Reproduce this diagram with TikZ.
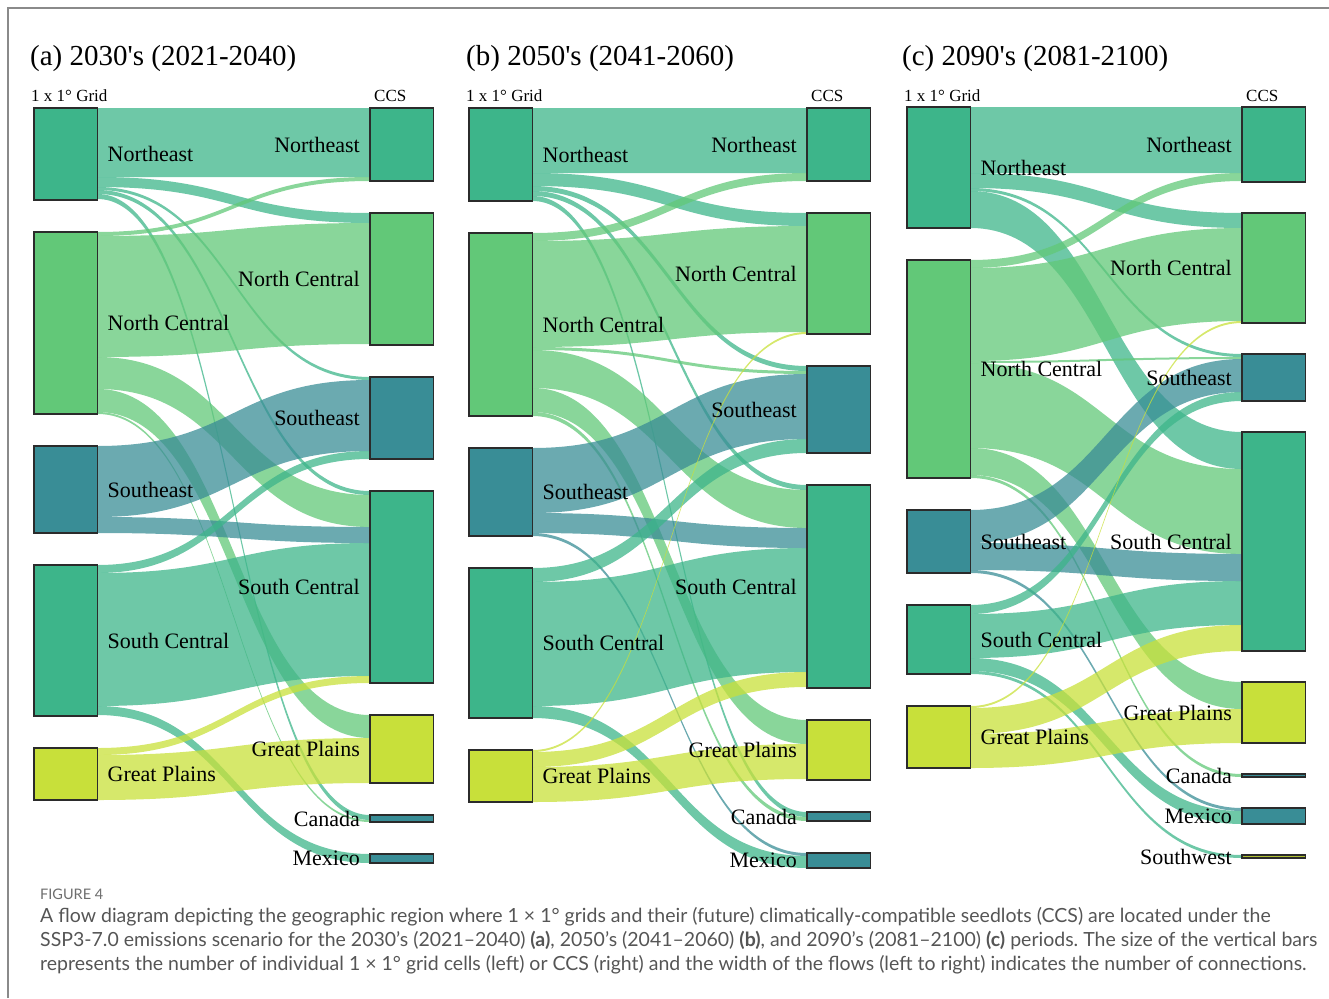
\documentclass[tikz,border=0pt]{standalone}
\usepackage{fontspec}
\setmainfont{Liberation Serif}[Ligatures=TeXOff]
\newfontfamily\capfont{Lato}
\usetikzlibrary{positioning}
\usetikzlibrary{calc}
\pgfdeclarelayer{background}
\pgfsetlayers{background,main}
\frenchspacing

\definecolor{cNE}{HTML}{3DB58A}
\definecolor{cNC}{HTML}{62C878}
\definecolor{cSE}{HTML}{398D96}
\definecolor{cGP}{HTML}{C8E03A}
\definecolor{cSW}{HTML}{AFC032}
\colorlet{cSC}{cNE}
\definecolor{edge}{HTML}{2B2B2B}
\definecolor{capgray}{HTML}{555555}
\definecolor{framegray}{HTML}{8A8A8A}

% one flow band: source bar, offset, target bar, offset, width, colour
\newcommand{\flow}[6]{%
  \path (#1.north east) ++(0,#2) coordinate (f1) ++(0,#5) coordinate (f2)
        (#3.north west) ++(0,#4) coordinate (f3) ++(0,#5) coordinate (f4)
        ($(f1)!0.5!(f3)$) coordinate (fm);
  \begin{pgfonlayer}{background}
    \fill[band = #6] (f1) .. controls (f1 -| fm) and (f3 -| fm) .. (f3)
      -- (f4) .. controls (f4 -| fm) and (f2 -| fm) .. (f2) -- cycle;
  \end{pgfonlayer}
}

\tikzset {
  bar/.style = {
    draw = edge,
    fill = #1,
    line width = 1.1pt,
    rectangle,
    minimum width = 63.5pt,
    inner sep = 0,
    outer sep = 0
  },
  band/.style = {
    fill = #1,
    fill opacity = 0.75
  },
  % region names beside the bars
  lname/.style = {
    font = \fontsize{22}{26}\selectfont,
    inner sep = 0
  },
  rname/.style = {
    lname
  },
  title/.style = {
    font = \fontsize{29}{34}\selectfont,
    anchor = base west,
    inner sep = 0
  },
  head/.style = {
    font = \fontsize{17}{20}\selectfont,
    anchor = base west,
    inner sep = 0
  },
  capline/.style = {
    font = \capfont\fontsize{19.5}{24}\selectfont,
    text = capgray,
    anchor = base west,
    inner sep = 0
  },
  node distance = 32pt
}

\begin{document}
\begin{tikzpicture}[x = 1pt, y = -1pt]
  \useasboundingbox (0,0) rectangle (1329,998);
  \draw[framegray, line width = 1.4pt] (8,998) -- (8,8) -- (1329,8);

  % (a) 2030's
  \node[title] (aTitle) at (30,66) {(a) 2030's (2021-2040)};
  \node[bar = cNE, minimum height = 92pt, anchor = north west] (aLne) at (34,108) {};
  \node[bar = cNC, minimum height = 182pt] (aLnc) [below = of aLne] {};
  \node[bar = cSE, minimum height = 87pt] (aLse) [below = of aLnc] {};
  \node[bar = cSC, minimum height = 151pt] (aLsc) [below = of aLse] {};
  \node[bar = cGP, minimum height = 52pt] (aLgp) [below = of aLsc] {};
  \node[bar = cNE, minimum height = 73pt, anchor = north west] (aRne) at (370,108) {};
  \node[bar = cNC, minimum height = 132pt] (aRnc) [below = of aRne] {};
  \node[bar = cSE, minimum height = 82pt] (aRse) [below = of aRnc] {};
  \node[bar = cSC, minimum height = 192pt] (aRsc) [below = of aRse] {};
  \node[bar = cGP, minimum height = 68pt] (aRgp) [below = of aRsc] {};
  \node[bar = cSE, minimum height = 7pt] (aRca) [below = of aRgp] {};
  \node[bar = cSE, minimum height = 9pt] (aRmx) [below = of aRca] {};
  \node[head] (aGrid) at ([shift = {(-3,-7)}]aLne.north west) {1 x 1° Grid};
  \node[head] (aCCS) at ([shift = {(4,-7)}]aRne.north west) {CCS};

  \flow{aLne}{0}{aRne}{0}{69}{cNE}
  \flow{aLne}{69}{aRnc}{0}{10}{cNE}
  \flow{aLne}{79}{aRse}{0}{3}{cNE}
  \flow{aLne}{82}{aRsc}{0}{4}{cNE}
  \flow{aLne}{86}{aRca}{0}{5}{cNE}
  \flow{aLnc}{0}{aRne}{69}{4}{cNC}
  \flow{aLnc}{4}{aRnc}{10}{121}{cNC}
  \flow{aLnc}{125}{aRsc}{4}{32}{cNC}
  \flow{aLnc}{157}{aRgp}{0}{23}{cNC}
  \flow{aLnc}{180}{aRca}{5}{2}{cNC}
  \flow{aLse}{0}{aRse}{3}{71}{cSE}
  \flow{aLse}{71}{aRsc}{36}{16}{cSE}
  \flow{aLsc}{0}{aRse}{74}{8}{cSC}
  \flow{aLsc}{8}{aRsc}{52}{133}{cSC}
  \flow{aLsc}{141}{aRmx}{0}{9}{cSC}
  \flow{aLgp}{0}{aRsc}{185}{7}{cGP}
  \flow{aLgp}{7}{aRgp}{23}{45}{cGP}

  \node[lname] (aLneT) [right = 10pt of aLne] {Northeast};
  \node[lname] (aLncT) [right = 10pt of aLnc] {North Central};
  \node[lname] (aLseT) [right = 10pt of aLse] {Southeast};
  \node[lname] (aLscT) [right = 10pt of aLsc] {South Central};
  \node[lname] (aLgpT) [right = 10pt of aLgp] {Great Plains};
  \node[rname] (aRneT) [left = 10pt of aRne] {Northeast};
  \node[rname] (aRncT) [left = 10pt of aRnc] {North Central};
  \node[rname] (aRseT) [left = 10pt of aRse] {Southeast};
  \node[rname] (aRscT) [left = 10pt of aRsc] {South Central};
  \node[rname] (aRgpT) [left = 10pt of aRgp] {Great Plains};
  \node[rname] (aRcaT) [left = 10pt of aRca] {Canada};
  \node[rname] (aRmxT) [left = 10pt of aRmx] {Mexico};

  % (b) 2050's
  \node[title] (bTitle) at (466,66) {(b) 2050's (2041-2060)};
  \node[bar = cNE, minimum height = 93pt, anchor = north west] (bLne) at (469,108) {};
  \node[bar = cNC, minimum height = 183pt] (bLnc) [below = of bLne] {};
  \node[bar = cSE, minimum height = 88pt] (bLse) [below = of bLnc] {};
  \node[bar = cSC, minimum height = 150pt] (bLsc) [below = of bLse] {};
  \node[bar = cGP, minimum height = 52pt] (bLgp) [below = of bLsc] {};
  \node[bar = cNE, minimum height = 73pt, anchor = north west] (bRne) at (807,108) {};
  \node[bar = cNC, minimum height = 121pt] (bRnc) [below = of bRne] {};
  \node[bar = cSE, minimum height = 87pt] (bRse) [below = of bRnc] {};
  \node[bar = cSC, minimum height = 203pt] (bRsc) [below = of bRse] {};
  \node[bar = cGP, minimum height = 60pt] (bRgp) [below = of bRsc] {};
  \node[bar = cSE, minimum height = 9pt] (bRca) [below = of bRgp] {};
  \node[bar = cSE, minimum height = 15pt] (bRmx) [below = of bRca] {};
  \node[head] (bGrid) at ([shift = {(-3,-7)}]bLne.north west) {1 x 1° Grid};
  \node[head] (bCCS) at ([shift = {(4,-7)}]bRne.north west) {CCS};

  \flow{bLne}{0}{bRne}{0}{65}{cNE}
  \flow{bLne}{65}{bRnc}{0}{13}{cNE}
  \flow{bLne}{78}{bRse}{0}{5}{cNE}
  \flow{bLne}{83}{bRsc}{0}{5}{cNE}
  \flow{bLne}{88}{bRca}{0}{5}{cNE}
  \flow{bLnc}{0}{bRne}{65}{8}{cNC}
  \flow{bLnc}{8}{bRnc}{13}{106}{cNC}
  \flow{bLnc}{114}{bRse}{5}{3}{cNC}
  \flow{bLnc}{117}{bRsc}{5}{38}{cNC}
  \flow{bLnc}{155}{bRgp}{0}{24}{cNC}
  \flow{bLnc}{179}{bRca}{5}{4}{cNC}
  \flow{bLse}{0}{bRse}{8}{65}{cSE}
  \flow{bLse}{65}{bRsc}{43}{20}{cSE}
  \flow{bLse}{85}{bRmx}{0}{3}{cSE}
  \flow{bLsc}{0}{bRse}{73}{14}{cSC}
  \flow{bLsc}{14}{bRsc}{63}{124}{cSC}
  \flow{bLsc}{138}{bRmx}{3}{12}{cSC}
  \flow{bLgp}{0}{bRnc}{119}{2}{cGP}
  \flow{bLgp}{2}{bRsc}{187}{15}{cGP}
  \flow{bLgp}{17}{bRgp}{24}{35}{cGP}

  \node[lname] (bLneT) [right = 10pt of bLne] {Northeast};
  \node[lname] (bLncT) [right = 10pt of bLnc] {North Central};
  \node[lname] (bLseT) [right = 10pt of bLse] {Southeast};
  \node[lname] (bLscT) [right = 10pt of bLsc] {South Central};
  \node[lname] (bLgpT) [right = 10pt of bLgp] {Great Plains};
  \node[rname] (bRneT) [left = 10pt of bRne] {Northeast};
  \node[rname] (bRncT) [left = 10pt of bRnc] {North Central};
  \node[rname] (bRseT) [left = 10pt of bRse] {Southeast};
  \node[rname] (bRscT) [left = 10pt of bRsc] {South Central};
  \node[rname] (bRgpT) [left = 10pt of bRgp] {Great Plains};
  \node[rname] (bRcaT) [left = 10pt of bRca] {Canada};
  \node[rname] (bRmxT) [left = 10pt of bRmx] {Mexico};

  % (c) 2090's
  \node[title] (cTitle) at (902,66) {(c) 2090's (2081-2100)};
  \node[bar = cNE, minimum height = 121pt, anchor = north west] (cLne) at (907,107) {};
  \node[bar = cNC, minimum height = 218pt] (cLnc) [below = of cLne] {};
  \node[bar = cSE, minimum height = 63pt] (cLse) [below = of cLnc] {};
  \node[bar = cSC, minimum height = 69pt] (cLsc) [below = of cLse] {};
  \node[bar = cGP, minimum height = 62pt] (cLgp) [below = of cLsc] {};
  \node[bar = cNE, minimum height = 75pt, anchor = north west] (cRne) at (1242,107) {};
  \node[bar = cNC, minimum height = 110pt] (cRnc) [below = 31pt of cRne] {};
  \node[bar = cSE, minimum height = 47pt] (cRse) [below = 31pt of cRnc] {};
  \node[bar = cSC, minimum height = 219pt] (cRsc) [below = 31pt of cRse] {};
  \node[bar = cGP, minimum height = 61pt] (cRgp) [below = 31pt of cRsc] {};
  \node[bar = cSE, minimum height = 3pt] (cRca) [below = 31pt of cRgp] {};
  \node[bar = cSE, minimum height = 16pt] (cRmx) [below = 31pt of cRca] {};
  \node[bar = cSW, minimum height = 3pt] (cRsw) [below = 31pt of cRmx] {};
  \node[head] (cGrid) at ([shift = {(-3,-6)}]cLne.north west) {1 x 1° Grid};
  \node[head] (cCCS) at ([shift = {(4,-6)}]cRne.north west) {CCS};

  \flow{cLne}{0}{cRne}{0}{66}{cNE}
  \flow{cLne}{66}{cRnc}{0}{15}{cNE}
  \flow{cLne}{81}{cRse}{0}{3}{cNE}
  \flow{cLne}{84}{cRsc}{0}{37}{cNE}
  \flow{cLnc}{0}{cRne}{66}{8}{cNC}
  \flow{cLnc}{8}{cRnc}{15}{93}{cNC}
  \flow{cLnc}{101}{cRse}{3}{2}{cNC}
  \flow{cLnc}{103}{cRsc}{37}{85}{cNC}
  \flow{cLnc}{188}{cRgp}{0}{27}{cNC}
  \flow{cLnc}{215}{cRca}{0}{3}{cNC}
  \flow{cLse}{0}{cRse}{5}{33}{cSE}
  \flow{cLse}{33}{cRsc}{122}{27}{cSE}
  \flow{cLse}{60}{cRmx}{0}{3}{cSE}
  \flow{cLsc}{0}{cRse}{38}{9}{cSC}
  \flow{cLsc}{9}{cRsc}{149}{44}{cSC}
  \flow{cLsc}{53}{cRmx}{3}{13}{cSC}
  \flow{cLsc}{66}{cRsw}{0}{3}{cSC}
  \flow{cLgp}{0}{cRnc}{108}{2}{cGP}
  \flow{cLgp}{2}{cRsc}{193}{26}{cGP}
  \flow{cLgp}{28}{cRgp}{27}{34}{cGP}

  \node[lname] (cLneT) [right = 10pt of cLne] {Northeast};
  \node[lname] (cLncT) [right = 10pt of cLnc] {North Central};
  \node[lname] (cLseT) [right = 10pt of cLse] {Southeast};
  \node[lname] (cLscT) [right = 10pt of cLsc] {South Central};
  \node[lname] (cLgpT) [right = 10pt of cLgp] {Great Plains};
  \node[rname] (cRneT) [left = 10pt of cRne] {Northeast};
  \node[rname] (cRncT) [left = 10pt of cRnc] {North Central};
  \node[rname] (cRseT) [left = 10pt of cRse] {Southeast};
  \node[rname] (cRscT) [left = 10pt of cRsc] {South Central};
  \node[rname] (cRgpT) [left = 10pt of cRgp] {Great Plains};
  \node[rname] (cRcaT) [left = 10pt of cRca] {Canada};
  \node[rname] (cRmxT) [left = 10pt of cRmx] {Mexico};
  \node[rname] (cRswT) [left = 10pt of cRsw] {Southwest};

  % caption
  \node[capline, font = \capfont\fontsize{14.5}{16}\selectfont, text = capgray!85] (figno) at (40,899) {FIGURE 4};
  \node[capline] (cap1) at (40,922) {A flow diagram depicting the geographic region where 1 × 1° grids and their (future) climatically-compatible seedlots (CCS) are located under the};
  \node[capline] (cap2) at (40,946) {SSP3-7.0 emissions scenario for the 2030’s (2021–2040) \textbf{(a)}, 2050’s (2041–2060) \textbf{(b)}, and 2090’s (2081–2100) \textbf{(c)} periods. The size of the vertical bars};
  \node[capline] (cap3) at (40,970) {represents the number of individual 1 × 1° grid cells (left) or CCS (right) and the width of the flows (left to right) indicates the number of connections.};
\end{tikzpicture}
\end{document}
